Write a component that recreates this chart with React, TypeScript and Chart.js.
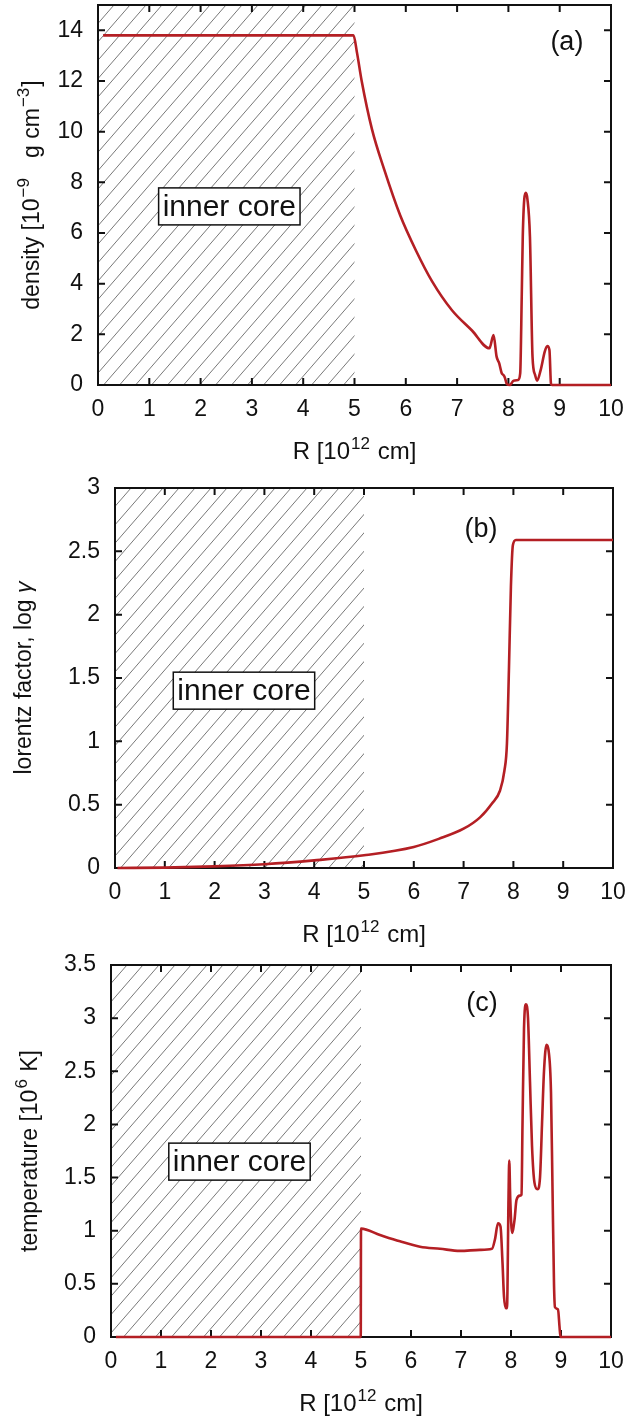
import React, { useEffect, useRef } from 'react';
import { Chart, registerables } from 'chart.js';

Chart.register(...registerables);

// ---------- data ----------
const radiusTicks = [0, 1, 2, 3, 4, 5, 6, 7, 8, 9, 10];
const densityTicks = [0, 2, 4, 6, 8, 10, 12, 14];
const lorentzTicks = [0, 0.5, 1, 1.5, 2, 2.5, 3];
const tempTicks = [0, 0.5, 1, 1.5, 2, 2.5, 3, 3.5];

const densityR = [0.1, 1, 2, 3, 4, 4.98, 5.05, 5.14, 5.34, 5.58, 5.89, 6.2, 6.51, 6.9, 7.29, 7.63, 7.71, 7.77, 7.82, 7.87, 7.9, 7.93, 7.97, 8.03, 8.1, 8.19, 8.23, 8.26, 8.28, 8.31, 8.34, 8.37, 8.42, 8.47, 8.52, 8.56, 8.63, 8.71, 8.76, 8.8, 8.83, 8.85, 9.5, 10];
const densityV = [13.8, 13.8, 13.8, 13.8, 13.8, 13.8, 13.1, 12.0, 10.1, 8.5, 6.7, 5.3, 4.1, 2.95, 2.15, 1.45, 1.97, 1.12, 0.86, 0.46, 0.4, 0.3, 0.04, 0.0, 0.17, 0.2, 0.46, 3.5, 5.85, 7.35, 7.59, 7.35, 5.85, 1.12, 0.4, 0.17, 0.6, 1.33, 1.54, 1.38, 0.05, 0, 0, 0];

const lorentzR = [0.05, 1, 2, 3, 4, 5, 6, 6.5, 7, 7.33, 7.57, 7.73, 7.82, 7.87, 7.91, 7.95, 7.99, 8.05, 9, 10];
const lorentzV = [0, 0.003, 0.013, 0.03, 0.06, 0.1, 0.166, 0.23, 0.31, 0.4, 0.51, 0.61, 0.77, 0.98, 1.56, 2.22, 2.55, 2.59, 2.59, 2.59];

const tempR = [0.1, 2, 4, 4.995, 5.0, 5.38, 5.78, 6.18, 6.58, 6.98, 7.38, 7.62, 7.68, 7.74, 7.79, 7.83, 7.86, 7.9, 7.92, 7.95, 7.965, 7.985, 8.02, 8.07, 8.11, 8.18, 8.21, 8.23, 8.26, 8.3, 8.34, 8.38, 8.42, 8.47, 8.53, 8.58, 8.62, 8.66, 8.71, 8.75, 8.8, 8.83, 8.86, 8.88, 8.94, 8.97, 8.99, 9.5, 10];
const tempV = [0, 0, 0, 0, 1.02, 0.96, 0.9, 0.85, 0.83, 0.81, 0.82, 0.83, 0.92, 1.07, 1.04, 0.7, 0.38, 0.27, 0.27, 1.3, 1.66, 1.3, 0.98, 1.1, 1.29, 1.33, 1.34, 2.0, 2.9, 3.13, 3.0, 2.4, 1.8, 1.45, 1.39, 1.5, 2.0, 2.5, 2.75, 2.7, 2.3, 1.4, 0.5, 0.28, 0.26, 0.1, 0, 0, 0];

const coreEnd = 5;
const coreLabel = 'inner core';

// ---------- layout ----------
const FONT = '"Liberation Sans", Arial, Helvetica, sans-serif';
const RED = '#b41f24';

type Seg = { t: string; sup?: boolean; it?: boolean };

type Panel = {
  top: number; height: number; left: number; right: number; padTop: number; xAxisH: number;
  yMax: number; yTicks: number[]; xs: number[]; ys: number[];
  yTitle: Seg[]; yTitleX: number; tag: string; tagPos: [number, number]; corePos: [number, number];
};

const xTitle: Seg[] = [{ t: 'R [10' }, { t: '12', sup: true }, { t: ' cm]' }];

const panels: Panel[] = [
  {
    top: 0, height: 470, left: 98, right: 17, padTop: 5, xAxisH: 85,
    yMax: 15, yTicks: densityTicks, xs: densityR, ys: densityV,
    yTitle: [{ t: 'density [10' }, { t: '−9', sup: true }, { t: '   g cm' }, { t: '−3', sup: true }, { t: ']' }],
    yTitleX: 39, tag: '(a)', tagPos: [9.14, 13.5], corePos: [2.56, 7.05],
  },
  {
    top: 470, height: 480, left: 115, right: 15, padTop: 18, xAxisH: 82,
    yMax: 3, yTicks: lorentzTicks, xs: lorentzR, ys: lorentzV,
    yTitle: [{ t: 'lorentz factor, log ' }, { t: 'γ', it: true }],
    yTitleX: 31, tag: '(b)', tagPos: [7.35, 2.67], corePos: [2.59, 1.4],
  },
  {
    top: 950, height: 468, left: 111, right: 17, padTop: 15, xAxisH: 81,
    yMax: 3.5, yTicks: tempTicks, xs: tempR, ys: tempV,
    yTitle: [{ t: 'temperature [10' }, { t: '6', sup: true }, { t: ' K]' }],
    yTitleX: 37, tag: '(c)', tagPos: [7.42, 3.14], corePos: [2.57, 1.65],
  },
];

function segFont(s: Seg, size: number) {
  const sz = s.sup ? Math.round(size * 0.72) : size;
  return `${s.it ? 'italic ' : ''}${sz}px ${FONT}`;
}

function drawRich(ctx: CanvasRenderingContext2D, segs: Seg[], size: number, x: number, y: number, rotate: boolean) {
  ctx.save();
  ctx.translate(x, y);
  if (rotate) ctx.rotate(-Math.PI / 2);
  const widths = segs.map((s) => {
    ctx.font = segFont(s, size);
    return ctx.measureText(s.t).width + (s.sup ? 2 : 0);
  });
  const total = widths.reduce((a, b) => a + b, 0);
  let cx = -total / 2;
  ctx.fillStyle = '#111';
  ctx.textAlign = 'left';
  ctx.textBaseline = 'alphabetic';
  segs.forEach((s, i) => {
    ctx.font = segFont(s, size);
    ctx.fillText(s.t, cx + (s.sup ? 1 : 0), s.sup ? -size * 0.42 : 0);
    cx += widths[i];
  });
  ctx.restore();
}

function makeDecor(p: Panel) {
  return {
    id: 'decor',
    beforeDatasetsDraw(chart: any) {
      const { ctx, chartArea: a, scales } = chart;
      const xs = scales.x;
      const ys = scales.y;
      // hatch
      const x0 = xs.getPixelForValue(0);
      const x1 = xs.getPixelForValue(coreEnd);
      ctx.save();
      ctx.beginPath();
      ctx.rect(x0, a.top, x1 - x0, a.bottom - a.top);
      ctx.clip();
      ctx.strokeStyle = '#555';
      ctx.lineWidth = 0.8;
      const h = a.bottom - a.top;
      const slope = 1.15;
      const dx = h / slope;
      for (let sx = x0 - dx; sx < x1 + 2; sx += 16) {
        ctx.beginPath();
        ctx.moveTo(sx, a.bottom);
        ctx.lineTo(sx + dx, a.top);
        ctx.stroke();
      }
      ctx.restore();
      // frame
      ctx.save();
      ctx.strokeStyle = '#111';
      ctx.lineWidth = 2;
      ctx.strokeRect(a.left, a.top, a.right - a.left, a.bottom - a.top);
      const tl = 7;
      xs.ticks.forEach((t: any) => {
        const px = xs.getPixelForValue(t.value);
        ctx.beginPath();
        ctx.moveTo(px, a.bottom); ctx.lineTo(px, a.bottom - tl);
        ctx.moveTo(px, a.top); ctx.lineTo(px, a.top + tl);
        ctx.stroke();
      });
      ys.ticks.forEach((t: any) => {
        const py = ys.getPixelForValue(t.value);
        ctx.beginPath();
        ctx.moveTo(a.left, py); ctx.lineTo(a.left + tl, py);
        ctx.moveTo(a.right, py); ctx.lineTo(a.right - tl, py);
        ctx.stroke();
      });
      ctx.restore();
    },
    afterDatasetsDraw(chart: any) {
      const { ctx, chartArea: a, scales } = chart;
      const xs = scales.x;
      const ys = scales.y;
      // inner core box
      ctx.save();
      const cx = xs.getPixelForValue(p.corePos[0]);
      const cy = ys.getPixelForValue(p.corePos[1]);
      ctx.font = `30px ${FONT}`;
      const w = ctx.measureText(coreLabel).width + 8;
      const bh = 37;
      ctx.fillStyle = '#fff';
      ctx.fillRect(cx - w / 2, cy - bh / 2, w, bh);
      ctx.strokeStyle = '#111';
      ctx.lineWidth = 1.5;
      ctx.strokeRect(cx - w / 2, cy - bh / 2, w, bh);
      ctx.fillStyle = '#111';
      ctx.textAlign = 'center';
      ctx.textBaseline = 'middle';
      ctx.fillText(coreLabel, cx, cy + 1);
      // tag
      ctx.font = `27px ${FONT}`;
      ctx.fillText(p.tag, xs.getPixelForValue(p.tagPos[0]), ys.getPixelForValue(p.tagPos[1]));
      ctx.restore();
      // titles
      drawRich(ctx, xTitle, 24, (a.left + a.right) / 2, a.bottom + 74, false);
      drawRich(ctx, p.yTitle, 23, p.yTitleX, (a.top + a.bottom) / 2, true);
    },
  };
}

function PanelChart({ p }: { p: Panel }) {
  const ref = useRef<HTMLCanvasElement | null>(null);
  useEffect(() => {
    if (!ref.current) return;
    const chart = new Chart(ref.current, {
      type: 'line',
      data: {
        datasets: [
          {
            data: p.xs.map((x, i) => ({ x, y: p.ys[i] })),
            borderColor: RED,
            borderWidth: 2.6,
            pointRadius: 0,
            fill: false,
            cubicInterpolationMode: 'monotone',
            clip: 6,
          } as any,
        ],
      },
      options: {
        animation: false,
        responsive: false,
        events: [],
        layout: { padding: { left: 0, right: p.right, top: p.padTop, bottom: 0 } },
        plugins: { legend: { display: false }, tooltip: { enabled: false } },
        scales: {
          x: {
            type: 'linear',
            min: 0,
            max: 10,
            grid: { display: false, drawTicks: false },
            border: { display: false },
            afterBuildTicks: (s: any) => { s.ticks = radiusTicks.map((v) => ({ value: v })); },
            afterFit: (s: any) => { s.height = p.xAxisH; s.paddingLeft = 0; s.paddingRight = 0; s.paddingTop = 0; s.paddingBottom = 0; },
            ticks: { color: '#111', padding: 11, font: { family: FONT, size: 23 }, callback: (v: any) => String(v), maxRotation: 0, autoSkip: false },
          },
          y: {
            type: 'linear',
            min: 0,
            max: p.yMax,
            grid: { display: false, drawTicks: false },
            border: { display: false },
            afterBuildTicks: (s: any) => { s.ticks = p.yTicks.map((v) => ({ value: v })); },
            afterFit: (s: any) => { s.width = p.left; s.paddingLeft = 0; s.paddingRight = 0; s.paddingTop = 0; s.paddingBottom = 0; },
            ticks: { color: '#111', padding: 15, font: { family: FONT, size: 23 }, callback: (v: any) => String(v), autoSkip: false },
          },
        },
      },
      plugins: [makeDecor(p)],
    });
    return () => chart.destroy();
  }, [p]);
  return (
    <div style={{ position: 'absolute', left: 0, top: p.top, width: 628, height: p.height }}>
      <canvas ref={ref} width={628} height={p.height} style={{ display: 'block' }} />
    </div>
  );
}

export default function App() {
  return (
    <div style={{ position: 'absolute', left: 0, top: 0, width: 628, height: 1418, background: '#fff' }}>
      {panels.map((p) => (
        <PanelChart key={p.tag} p={p} />
      ))}
    </div>
  );
}
